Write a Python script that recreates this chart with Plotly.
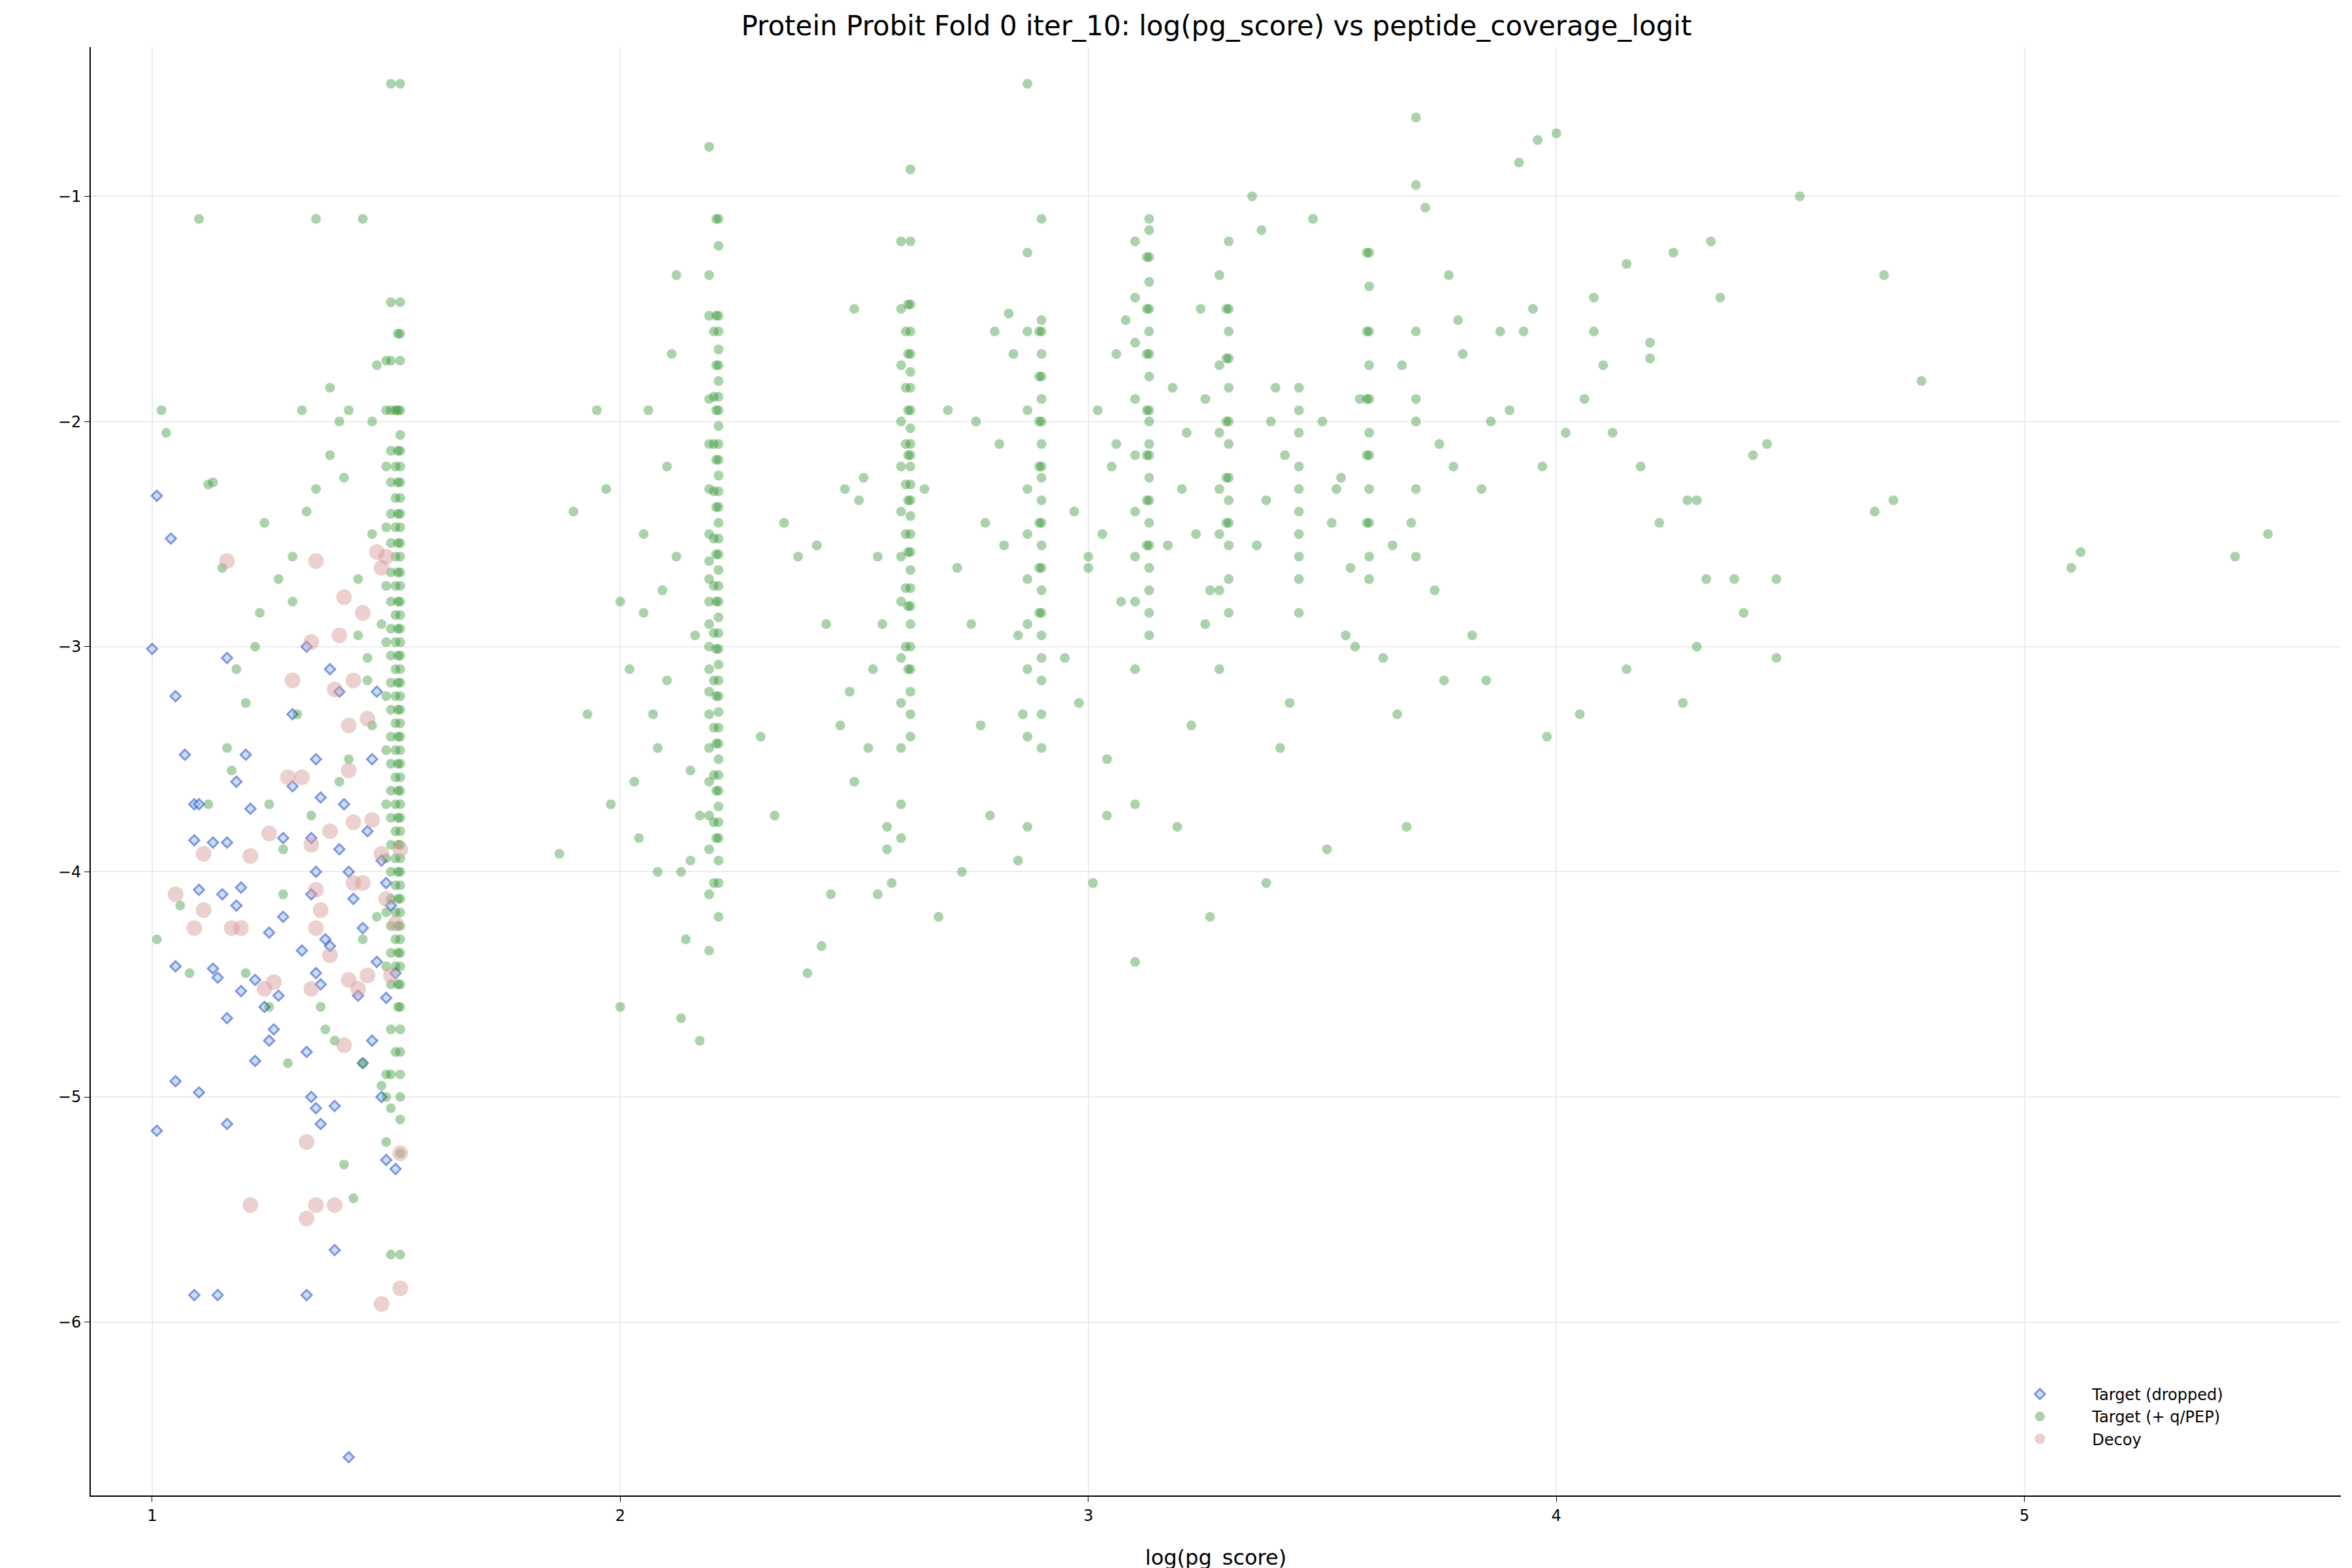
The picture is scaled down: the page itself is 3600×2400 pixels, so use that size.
import plotly.graph_objects as go

# ---- stripe columns (x position, dense y levels) ----
col_x = [1.53, 1.51, 2.21, 2.19, 2.62, 2.60, 2.90, 2.87, 3.13, 3.10, 3.30, 3.28, 3.45, 3.60, 3.70,
         1.525, 1.52, 1.50, 2.205, 2.20, 2.615, 2.61, 2.895, 3.125, 3.295, 3.595]
col_y = [
    [-0.5, -1.47, -1.61, -1.73, -1.95, -2.06, -2.13, -2.2, -2.27, -2.34, -2.41, -2.47, -2.54, -2.6, -2.67,
     -2.73, -2.8, -2.86, -2.92, -2.98, -3.04, -3.1, -3.16, -3.22, -3.28, -3.34, -3.4, -3.46, -3.52, -3.58,
     -3.64, -3.7, -3.76, -3.82, -3.88, -3.94, -4.0, -4.06, -4.12, -4.18, -4.24, -4.3, -4.36, -4.42, -4.5,
     -4.6, -4.7, -4.8, -4.9, -5.0, -5.1, -5.25, -5.7],
    [-0.5, -1.47, -1.73, -1.95, -2.13, -2.27, -2.41, -2.54, -2.67, -2.8, -2.92, -3.04, -3.16, -3.28, -3.4,
     -3.52, -3.64, -3.76, -3.88, -4.0, -4.12, -4.24, -4.36, -4.5, -4.7, -4.9, -5.05, -5.7],
    [-1.1, -1.22, -1.53, -1.6, -1.68, -1.75, -1.82, -1.89, -1.95, -2.02, -2.1, -2.17, -2.24, -2.31, -2.38,
     -2.45, -2.52, -2.59, -2.66, -2.73, -2.8, -2.87, -2.94, -3.01, -3.08, -3.15, -3.22, -3.29, -3.36, -3.43,
     -3.5, -3.57, -3.64, -3.71, -3.78, -3.85, -3.95, -4.05, -4.2],
    [-0.78, -1.35, -1.53, -1.9, -2.1, -2.3, -2.5, -2.62, -2.7, -2.8, -2.9, -3.0, -3.1, -3.2, -3.3, -3.45,
     -3.6, -3.75, -3.9, -4.1, -4.35],
    [-0.88, -1.2, -1.48, -1.6, -1.7, -1.78, -1.85, -1.95, -2.03, -2.1, -2.15, -2.2, -2.28, -2.35, -2.42,
     -2.5, -2.58, -2.66, -2.74, -2.82, -2.9, -3.0, -3.1, -3.2, -3.3, -3.4],
    [-1.2, -1.5, -1.75, -2.0, -2.2, -2.4, -2.6, -2.8, -3.05, -3.25, -3.45, -3.7, -3.85],
    [-1.1, -1.55, -1.6, -1.7, -1.8, -1.9, -2.0, -2.1, -2.2, -2.25, -2.35, -2.45, -2.55, -2.65, -2.75,
     -2.85, -2.95, -3.05, -3.15, -3.3, -3.45],
    [-0.5, -1.25, -1.6, -1.95, -2.3, -2.5, -2.7, -2.9, -3.1, -3.4, -3.8],
    [-1.1, -1.15, -1.27, -1.38, -1.5, -1.6, -1.7, -1.8, -1.95, -2.0, -2.1, -2.15, -2.25, -2.35, -2.45,
     -2.55, -2.65, -2.75, -2.85, -2.95],
    [-1.2, -1.45, -1.65, -1.9, -2.15, -2.4, -2.6, -2.8, -3.1, -3.7, -4.4],
    [-1.2, -1.5, -1.6, -1.72, -1.85, -2.0, -2.1, -2.25, -2.35, -2.45, -2.55, -2.7, -2.85],
    [-1.35, -1.75, -2.05, -2.3, -2.5, -2.75, -3.1],
    [-1.85, -1.95, -2.05, -2.2, -2.3, -2.4, -2.5, -2.6, -2.7, -2.85],
    [-1.25, -1.4, -1.6, -1.75, -1.9, -2.05, -2.15, -2.3, -2.45, -2.6, -2.7],
    [-0.65, -0.95, -1.6, -1.9, -2.0, -2.3, -2.6],
    [-1.61, -1.95, -2.13, -2.27, -2.41, -2.54, -2.67, -2.8, -2.92, -3.04, -3.16, -3.28, -3.4, -3.52, -3.64,
     -3.76, -3.88, -4.0, -4.12, -4.24, -4.36, -4.5, -4.6],
    [-1.95, -2.2, -2.34, -2.47, -2.6, -2.73, -2.86, -2.98, -3.1, -3.22, -3.34, -3.46, -3.58, -3.7, -3.82,
     -3.94, -4.06, -4.18, -4.3, -4.42, -4.8],
    [-1.73, -1.95, -2.2, -2.47, -2.73, -2.98, -3.22, -3.46, -3.7, -3.94, -4.18, -4.42, -4.9],
    [-1.1, -1.53, -1.75, -1.95, -2.17, -2.38, -2.59, -2.8, -3.01, -3.22, -3.43, -3.64, -3.85],
    [-1.6, -1.89, -2.1, -2.31, -2.52, -2.73, -2.94, -3.15, -3.36, -3.57, -3.78, -4.05],
    [-1.48, -1.7, -1.95, -2.15, -2.35, -2.58, -2.82, -3.1],
    [-1.6, -1.85, -2.1, -2.28, -2.5, -2.74, -3.0],
    [-1.6, -1.8, -2.0, -2.2, -2.45, -2.65, -2.85],
    [-1.27, -1.5, -1.7, -1.95, -2.15, -2.35, -2.55],
    [-1.5, -1.72, -2.0, -2.25, -2.45],
    [-1.25, -1.6, -1.9, -2.15, -2.45],
]

# ---- loose target points ----
green_x = [1.02, 1.03, 1.1, 1.12, 1.01, 1.06, 1.08, 1.13, 1.15, 1.18, 1.2, 1.22, 1.25, 1.27, 1.28, 1.3, 1.31,
           1.33, 1.35, 1.36, 1.38, 1.4, 1.41, 1.42, 1.44, 1.45, 1.46, 1.47, 1.48, 1.49, 1.5, 1.35, 1.38, 1.4,
           1.43, 1.45, 1.47, 1.49, 1.3, 1.28, 1.25, 1.2, 1.17, 1.12, 1.24, 1.32, 1.37, 1.41, 1.44, 1.46,
           1.48, 1.5, 1.42, 1.39, 1.34, 1.29, 1.23, 1.16, 1.45, 1.47,
           1.87, 1.9, 1.95, 1.98, 2.0, 2.02, 2.03, 2.05, 2.07, 2.08, 2.1, 2.12, 2.13, 2.15, 2.16, 2.17, 2.05,
           2.08, 2.1, 2.12, 2.14, 1.93, 1.97, 2.04, 2.09, 2.15, 2.11, 2.13, 2.06, 2.0, 2.17,
           2.3, 2.35, 2.38, 2.42, 2.45, 2.48, 2.5, 2.52, 2.54, 2.56, 2.57, 2.58, 2.4, 2.44, 2.47, 2.51,
           2.53, 2.55, 2.33, 2.43, 2.49, 2.5, 2.55, 2.57,
           2.65, 2.7, 2.73, 2.75, 2.77, 2.8, 2.82, 2.83, 2.85, 2.86, 2.72, 2.78, 2.81, 2.84, 2.68, 2.76,
           2.79, 2.85,
           2.95, 2.98, 3.0, 3.02, 3.04, 3.05, 3.06, 3.07, 3.08, 2.97, 3.01, 3.03, 3.06, 3.0, 3.04,
           3.17, 3.2, 3.22, 3.24, 3.25, 3.26, 3.18, 3.21, 3.23, 3.25, 3.19, 3.26,
           3.35, 3.37, 3.38, 3.4, 3.42, 3.43, 3.36, 3.39, 3.41, 3.5, 3.52, 3.55, 3.57, 3.58, 3.53, 3.56,
           3.51, 3.54, 3.48, 3.38,
           3.63, 3.65, 3.67, 3.68, 3.72, 3.75, 3.77, 3.78, 3.8, 3.82, 3.85, 3.88, 3.9, 3.92, 3.95, 3.97,
           3.98, 3.66, 3.74, 3.79, 3.86, 3.93, 3.69, 3.76, 3.84,
           4.02, 4.05, 4.06, 4.08, 4.1, 4.12, 4.15, 4.18, 4.2, 4.22, 4.25, 4.28, 4.3, 4.32, 4.33, 4.35,
           4.38, 4.42, 4.45, 4.47, 4.52, 4.68, 4.72, 4.78, 5.1, 5.12, 5.45, 5.52, 4.08, 4.27, 4.3, 4.0,
           3.96, 4.2, 4.15, 4.4, 4.47, 4.7]
green_y = [-1.95, -2.05, -1.1, -2.28, -4.3, -4.15, -4.45, -2.27, -2.65, -3.1, -3.25, -3.0, -3.7, -2.7, -4.1,
           -2.6, -3.3, -2.4, -2.3, -4.6, -1.85, -2.0, -2.25, -3.5, -2.7, -4.85, -3.15, -2.5, -1.75, -4.95,
           -5.0, -1.1, -2.15, -3.6, -5.45, -4.3, -3.35, -2.9, -2.8, -3.9, -4.6, -4.45, -3.55, -3.7, -2.45,
           -1.95, -4.7, -5.3, -2.95, -3.05, -4.2, -5.2, -1.95, -4.75, -3.75, -4.85, -2.85, -3.45, -1.1, -2.0,
           -3.92, -2.4, -1.95, -3.7, -4.6, -3.1, -3.6, -2.5, -3.3, -4.0, -2.2, -1.35, -4.65, -3.95, -2.95,
           -4.75, -2.85, -3.45, -3.15, -2.6, -4.3, -3.3, -2.3, -3.85, -2.75, -3.55, -1.7, -4.0, -1.95, -2.8, -3.75,
           -3.4, -2.45, -2.6, -2.55, -4.1, -2.3, -1.5, -2.25, -3.1, -2.9, -3.8, -4.05, -4.45, -2.9, -3.35, -2.35,
           -3.45, -2.6, -3.75, -4.33, -3.2, -3.6, -4.1, -3.9,
           -2.3, -1.95, -4.0, -2.9, -3.35, -1.6, -2.55, -1.52, -2.95, -3.3, -2.65, -2.45, -2.1, -1.7, -4.2,
           -2.0, -3.75, -3.95,
           -3.05, -3.25, -2.6, -1.95, -3.5, -2.2, -1.7, -2.8, -1.55, -2.4, -4.05, -2.5, -2.1, -2.65, -3.75,
           -2.55, -2.3, -3.35, -1.5, -1.9, -2.75, -1.85, -2.05, -2.5, -2.9, -3.8, -4.2,
           -1.0, -1.15, -2.35, -1.85, -2.15, -3.25, -2.55, -2.0, -3.45, -2.0, -2.45, -2.95, -3.0, -1.9, -2.3,
           -2.65, -3.9, -2.25, -1.1, -4.05,
           -3.05, -2.55, -1.75, -3.8, -1.05, -2.1, -1.35, -2.2, -1.7, -2.95, -3.15, -1.6, -1.95, -0.85, -1.5,
           -2.2, -3.4, -3.3, -2.75, -1.55, -2.0, -1.6, -2.45, -3.15, -2.3,
           -2.05, -3.3, -1.9, -1.45, -1.75, -2.05, -1.3, -2.2, -1.65, -2.45, -1.25, -2.35, -3.0, -2.7, -1.2,
           -1.45, -2.7, -2.15, -2.1, -3.05, -1.0, -2.4, -2.35, -1.82, -2.65, -2.58, -2.6, -2.5, -1.6, -3.25,
           -2.35, -0.72, -0.75, -1.72, -3.1, -2.85, -2.7, -1.35]

# ---- dropped targets ----
drop_x = [1.01, 1.04, 1.0, 1.05, 1.07, 1.09, 1.1, 1.09, 1.13, 1.1, 1.05, 1.13, 1.05, 1.1, 1.01, 1.16, 1.09, 1.14,
          1.16, 1.18, 1.2, 1.21, 1.16, 1.19, 1.15, 1.14, 1.19, 1.16, 1.22, 1.25, 1.26, 1.27, 1.22, 1.25, 1.28,
          1.3, 1.3, 1.33, 1.35, 1.36, 1.34, 1.35, 1.34, 1.37, 1.38, 1.32, 1.35, 1.36, 1.33, 1.34, 1.35, 1.36,
          1.39, 1.33, 1.39, 1.42, 1.4, 1.42, 1.43, 1.45, 1.44, 1.47, 1.45, 1.49, 1.5, 1.52, 1.48, 1.47, 1.5,
          1.51, 1.48, 1.5, 1.52, 1.38, 1.4, 1.28, 1.24, 1.18, 1.41, 1.46, 1.49]
drop_y = [-2.33, -2.52, -3.01, -3.22, -3.48, -3.7, -3.7, -3.86, -3.87, -4.08, -4.42, -4.43, -4.93, -4.98, -5.15,
          -5.12, -5.88, -5.88, -3.05, -3.6, -3.48, -3.72, -3.87, -4.07, -4.1, -4.47, -4.53, -4.65, -4.84, -4.75,
          -4.7, -4.55, -4.48, -4.27, -3.85, -3.62, -3.3, -3.0, -3.5, -3.67, -3.85, -4.0, -4.1, -4.3, -4.33,
          -4.35, -4.45, -4.5, -4.8, -5.0, -5.05, -5.12, -5.04, -5.88, -5.68, -6.6, -3.9, -4.0, -4.12, -4.25,
          -4.55, -4.75, -4.85, -5.0, -5.28, -5.32, -3.2, -3.5, -4.05, -4.15, -4.4, -4.56, -4.45, -3.1, -3.2,
          -4.2, -4.6, -4.15, -3.7, -3.82, -3.95]

# ---- decoys ----
decoy_x = [1.05, 1.09, 1.11, 1.11, 1.16, 1.17, 1.19, 1.21, 1.25, 1.24, 1.26, 1.21, 1.29, 1.3, 1.32, 1.34, 1.35,
           1.34, 1.35, 1.35, 1.34, 1.36, 1.38, 1.38, 1.39, 1.4, 1.41, 1.42, 1.42, 1.43, 1.43, 1.45, 1.42, 1.44,
           1.46, 1.41, 1.33, 1.33, 1.35, 1.39, 1.48, 1.5, 1.49, 1.47, 1.49, 1.5, 1.52, 1.51, 1.53, 1.53, 1.49,
           1.43, 1.46, 1.45, 1.53]
decoy_y = [-4.1, -4.25, -4.17, -3.92, -2.62, -4.25, -4.25, -3.93, -3.83, -4.52, -4.49, -5.48, -3.58, -3.15,
           -3.58, -2.98, -2.62, -3.88, -4.08, -4.25, -4.52, -4.17, -4.37, -3.82, -3.19, -2.95, -2.78, -3.35,
           -3.55, -3.78, -4.05, -4.05, -4.48, -4.52, -4.46, -4.77, -5.2, -5.54, -5.48, -5.48, -2.58, -2.6,
           -2.65, -3.77, -3.92, -4.12, -4.23, -4.46, -5.25, -5.85, -5.92, -3.15, -3.32, -2.85, -3.9]

# flatten stripes into the target series
tx, ty = [], []
for cx, ys in zip(col_x, col_y):
    tx += [cx] * len(ys)
    ty += ys
tx += green_x
ty += green_y

fig = go.Figure()
fig.add_trace(go.Scatter(x=drop_x, y=drop_y, mode="markers", name="Target (dropped)",
                         marker=dict(symbol="diamond", size=12, color="#9fd0ff", opacity=0.6,
                                     line=dict(color="#3050c8", width=3))))
fig.add_trace(go.Scatter(x=tx, y=ty, mode="markers", name="Target (+ q/PEP)",
                         marker=dict(size=15, color="#228b22", opacity=0.38, line=dict(width=0))))
fig.add_trace(go.Scatter(x=decoy_x, y=decoy_y, mode="markers", name="Decoy",
                         marker=dict(size=24, color="#d9a0a0", opacity=0.5, line=dict(width=0))))

axis_common = dict(showline=True, linecolor="black", linewidth=2, ticks="outside", ticklen=8,
                   tickcolor="black", showgrid=True, gridcolor="#ececec", gridwidth=2, zeroline=False,
                   tickfont=dict(size=24, color="black"))
fig.update_layout(
    width=3600, height=2400, plot_bgcolor="white", paper_bgcolor="white",
    font=dict(family="DejaVu Sans", color="black"),
    title=dict(text="Protein Probit Fold 0 iter_10: log(pg_score) vs peptide_coverage_logit",
               x=0.515, xanchor="center", y=0.993, yanchor="top", font=dict(size=42)),
    margin=dict(l=131, r=25, t=64, b=109),
    xaxis=dict(range=[0.869, 5.676], tickvals=[1, 2, 3, 4, 5],
               title=dict(text="log(pg_score)", font=dict(size=32), standoff=40), **axis_common),
    yaxis=dict(range=[-6.77, -0.337], tickvals=[-1, -2, -3, -4, -5, -6],
               ticktext=["\u22121", "\u22122", "\u22123", "\u22124", "\u22125", "\u22126"], **axis_common),
    legend=dict(x=0.843, y=0.08, xanchor="left", yanchor="top", font=dict(size=24),
                bgcolor="rgba(255,255,255,0)", itemwidth=150, tracegroupgap=0),
)
fig.write_html("out.html")
